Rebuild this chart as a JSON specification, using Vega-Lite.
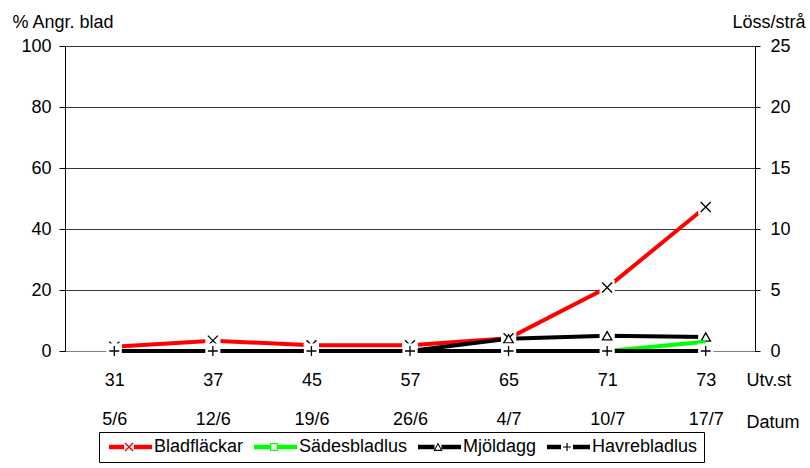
{
  "$schema": "https://vega.github.io/schema/vega-lite/v6.json",
  "width": 690,
  "height": 305,
  "autosize": "none",
  "padding": {"left": 65, "top": 46, "right": 55, "bottom": 117},
  "background": "white",
  "config": {
    "font": "Liberation Sans",
    "view": {"stroke": null},
    "axis": {"labelColor": "black", "titleColor": "black", "labelFontSize": 18, "titleFontSize": 18, "titleFontWeight": "normal", "labelFont": "Liberation Sans", "titleFont": "Liberation Sans"}
  },
  "data": {
    "values": [
      {"x": "31|5/6", "serie": "Bladfläckar", "ax": "L", "v": 1.4},
      {"x": "37|12/6", "serie": "Bladfläckar", "ax": "L", "v": 3.4},
      {"x": "45|19/6", "serie": "Bladfläckar", "ax": "L", "v": 1.9},
      {"x": "57|26/6", "serie": "Bladfläckar", "ax": "L", "v": 1.9},
      {"x": "65|4/7", "serie": "Bladfläckar", "ax": "L", "v": 4.2},
      {"x": "71|10/7", "serie": "Bladfläckar", "ax": "L", "v": 20.8},
      {"x": "73|17/7", "serie": "Bladfläckar", "ax": "L", "v": 47.2},
      {"x": "31|5/6", "serie": "Mjöldagg", "ax": "L", "v": 0},
      {"x": "37|12/6", "serie": "Mjöldagg", "ax": "L", "v": 0},
      {"x": "45|19/6", "serie": "Mjöldagg", "ax": "L", "v": 0},
      {"x": "57|26/6", "serie": "Mjöldagg", "ax": "L", "v": 0},
      {"x": "65|4/7", "serie": "Mjöldagg", "ax": "L", "v": 4},
      {"x": "71|10/7", "serie": "Mjöldagg", "ax": "L", "v": 5},
      {"x": "73|17/7", "serie": "Mjöldagg", "ax": "L", "v": 4.6},
      {"x": "31|5/6", "serie": "Sädesbladlus", "ax": "R", "v": 0},
      {"x": "37|12/6", "serie": "Sädesbladlus", "ax": "R", "v": 0},
      {"x": "45|19/6", "serie": "Sädesbladlus", "ax": "R", "v": 0},
      {"x": "57|26/6", "serie": "Sädesbladlus", "ax": "R", "v": 0},
      {"x": "65|4/7", "serie": "Sädesbladlus", "ax": "R", "v": 0},
      {"x": "71|10/7", "serie": "Sädesbladlus", "ax": "R", "v": 0},
      {"x": "73|17/7", "serie": "Sädesbladlus", "ax": "R", "v": 0.75},
      {"x": "31|5/6", "serie": "Havrebladlus", "ax": "R", "v": 0},
      {"x": "37|12/6", "serie": "Havrebladlus", "ax": "R", "v": 0},
      {"x": "45|19/6", "serie": "Havrebladlus", "ax": "R", "v": 0},
      {"x": "57|26/6", "serie": "Havrebladlus", "ax": "R", "v": 0},
      {"x": "65|4/7", "serie": "Havrebladlus", "ax": "R", "v": 0},
      {"x": "71|10/7", "serie": "Havrebladlus", "ax": "R", "v": 0},
      {"x": "73|17/7", "serie": "Havrebladlus", "ax": "R", "v": 0}
    ]
  },
  "encoding": {
    "x": {
      "field": "x", "type": "ordinal", "sort": null,
      "scale": {"type": "point", "padding": 0.5},
      "axis": {
        "labelExpr": "split(datum.value, '|')",
        "labelAngle": 0, "ticks": false, "labelPadding": 20, "labelBaseline": "top", "labelLineHeight": 39,
        "domainColor": "#808080", "domainWidth": 1, "grid": false,
        "title": ["Utv.st", "Datum"], "titleX": 681, "titleY": 20, "titleAlign": "left", "titleBaseline": "top", "titleLineHeight": 42
      }
    }
  },
  "layer": [
    {
      "transform": [{"filter": "datum.ax === 'L'"}],
      "encoding": {
        "y": {
          "field": "v", "type": "quantitative",
          "scale": {"domain": [0, 100]},
          "axis": {
            "orient": "left", "values": [0, 20, 40, 60, 80, 100], "grid": true, "gridColor": "#333333", "gridWidth": 1,
            "domainColor": "black", "tickColor": "black", "tickSize": 6, "labelPadding": 8,
            "title": "% Angr. blad", "titleAngle": 0, "titleX": -53, "titleY": -24, "titleAlign": "left", "titleBaseline": "middle"
          }
        }
      },
      "layer": [
        {
          "mark": {"type": "line", "strokeWidth": 4, "strokeCap": "butt"},
          "encoding": {
            "color": {
              "field": "serie", "type": "nominal",
              "scale": {"domain": ["Bladfläckar", "Sädesbladlus", "Mjöldagg", "Havrebladlus"], "range": ["#ff0000", "#00ff00", "#000000", "#000000"]},
              "legend": {
                "orient": "none", "legendX": 34, "legendY": 386, "direction": "horizontal", "columns": 4, "title": null,
                "strokeColor": "black", "fillColor": "white", "padding": 6,
                "labelFontSize": 18, "labelFont": "Liberation Sans", "labelColor": "black",
                "symbolSize": 100, "labelOffset": 31, "columnPadding": 6,
                "encode": {
                  "symbols": {
                    "update": {
                      "shape": {"signal": "datum.value === 'Bladfläckar' ? 'M-1,-0.45L2,-0.45L2,0.45L-1,0.45ZM4,-0.45L7.6,-0.45L7.6,0.45L4,0.45ZM2.1,-0.7L2.3,-0.9L3.9,0.7L3.7,0.9ZM2.1,0.7L3.7,-0.9L3.9,-0.7L2.3,0.9Z' : datum.value === 'Sädesbladlus' ? 'M-1,-0.45L2.2,-0.45L2.2,0.45L-1,0.45ZM3.8,-0.45L7.6,-0.45L7.6,0.45L3.8,0.45ZM2.2,-0.8L3.8,-0.8L3.8,0.8L2.2,0.8ZM2.45,-0.55L2.45,0.55L3.55,0.55L3.55,-0.55Z' : datum.value === 'Mjöldagg' ? 'M-1,-0.45L2.3,-0.45L2.3,0.45L-1,0.45ZM3.7,-0.45L7.6,-0.45L7.6,0.45L3.7,0.45ZM3,-0.9L3.9,0.8L2.1,0.8ZM3,-0.45L2.45,0.55L3.55,0.55Z' : 'M-1,-0.45L1.8,-0.45L1.8,0.45L-1,0.45ZM4.2,-0.45L7.6,-0.45L7.6,0.45L4.2,0.45ZM2.2,-0.12L3.8,-0.12L3.8,0.12L2.2,0.12ZM2.88,-0.8L3.12,-0.8L3.12,0.8L2.88,0.8Z'"},
                      "fill": {"scale": "color", "field": "value"},
                      "strokeWidth": {"value": 0}
                    }
                  }
                }
              }
            }
          }
        },
        {
          "mark": {"type": "point", "shape": "square", "size": 230, "filled": true, "fill": "white", "strokeWidth": 0, "opacity": 1}
        },
        {
          "transform": [{"filter": "datum.serie === 'Bladfläckar'"}],
          "mark": {"type": "point", "shape": "M-1,-1L1,1M-1,1L1,-1", "filled": false, "stroke": "black", "strokeWidth": 1.3, "size": 100, "opacity": 1}
        },
        {
          "transform": [{"filter": "datum.serie === 'Mjöldagg'"}],
          "mark": {"type": "point", "shape": "triangle-up", "filled": true, "fill": "white", "stroke": "black", "strokeWidth": 1.3, "size": 90, "opacity": 1}
        }
      ]
    },
    {
      "transform": [{"filter": "datum.ax === 'R'"}],
      "encoding": {
        "y": {
          "field": "v", "type": "quantitative",
          "scale": {"domain": [0, 25]},
          "axis": {
            "orient": "right", "values": [0, 5, 10, 15, 20, 25], "grid": false,
            "domainColor": "black", "tickColor": "black", "tickSize": 5, "labelPadding": 10,
            "title": "Löss/strå", "titleAngle": 0, "titleX": 50, "titleY": -24, "titleAlign": "right", "titleBaseline": "middle"
          }
        }
      },
      "layer": [
        {
          "transform": [{"filter": "datum.serie === 'Sädesbladlus'"}],
          "mark": {"type": "line", "strokeWidth": 4, "strokeCap": "butt"},
          "encoding": {"color": {"field": "serie", "type": "nominal"}}
        },
        {
          "transform": [{"filter": "datum.serie === 'Havrebladlus'"}],
          "mark": {"type": "line", "strokeWidth": 4, "strokeCap": "butt"},
          "encoding": {"color": {"field": "serie", "type": "nominal"}}
        },
        {
          "transform": [{"filter": "datum.serie === 'Havrebladlus'"}],
          "mark": {"type": "point", "shape": "square", "size": 230, "filled": true, "fill": "white", "strokeWidth": 0, "opacity": 1}
        },
        {
          "transform": [{"filter": "datum.serie === 'Havrebladlus'"}],
          "mark": {"type": "point", "shape": "M-1,0L1,0M0,-1L0,1", "filled": false, "stroke": "black", "strokeWidth": 1.3, "size": 100, "opacity": 1}
        }
      ]
    }
  ],
  "resolve": {"scale": {"y": "independent"}}
}
